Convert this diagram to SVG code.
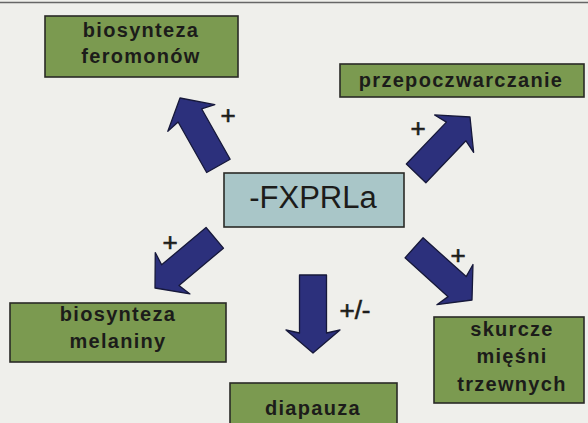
<svg xmlns="http://www.w3.org/2000/svg" width="588" height="423" viewBox="0 0 588 423">
<defs>
<style>
.box{fill:#7b9a50;stroke:#2a2a26;stroke-width:1.6}
.lbl{font-family:"Liberation Sans",Arial,sans-serif;font-weight:bold;font-size:20px;letter-spacing:1.3px;fill:#1c1c1a;text-anchor:middle}
.sign{font-family:"Liberation Sans",Arial,sans-serif;font-size:26px;fill:#1c1c1a;text-anchor:middle;stroke:#1c1c1a;stroke-width:0.6}
.arr{fill:#2c307c;stroke:#16183a;stroke-width:1.3;stroke-linejoin:round}
</style>
<polygon id="arrowShape" points="0,0 27,23 13.5,20 13.5,78 -13.5,78 -13.5,20 -27,23"/>
</defs>
<rect x="0" y="0" width="588" height="423" fill="#efefeb"/>
<line x1="0" y1="2.5" x2="588" y2="2.5" stroke="#666" stroke-width="1.5"/>

<g id="connectors">
<use href="#arrowShape" class="arr" transform="translate(180,98) rotate(-29.5)"/>
<use href="#arrowShape" class="arr" transform="translate(470,117) rotate(43.7)"/>
<use href="#arrowShape" class="arr" transform="translate(155,288) rotate(-130)"/>
<use href="#arrowShape" class="arr" transform="translate(472,300) rotate(132)"/>
<use href="#arrowShape" class="arr" transform="translate(313,353) rotate(180)"/>
<text class="sign" x="228" y="124">+</text>
<text class="sign" x="418" y="137">+</text>
<text class="sign" x="170" y="251">+</text>
<text class="sign" x="458" y="264">+</text>
<text class="sign" x="355" y="319">+/-</text>
</g>

<g id="center">
<rect x="224" y="173" width="180" height="54" fill="#a9c6c8" stroke="#2a2a26" stroke-width="1.6"/>
<text x="313" y="208" font-family="'Liberation Sans',Arial,sans-serif" font-size="31" fill="#1c1c1a" text-anchor="middle">-FXPRLa</text>
</g>

<g id="feromonow">
<rect class="box" x="45" y="16" width="193" height="61"/>
<text class="lbl" x="141" y="37">biosynteza</text>
<text class="lbl" x="141" y="63">feromonów</text>
</g>

<g id="przepoczwarczanie">
<rect class="box" x="340" y="64" width="244" height="33"/>
<text class="lbl" x="461" y="87">przepoczwarczanie</text>
</g>

<g id="melaniny">
<rect class="box" x="10" y="303" width="216" height="59"/>
<text class="lbl" x="118" y="321">biosynteza</text>
<text class="lbl" x="118" y="348">melaniny</text>
</g>

<g id="diapauza">
<rect class="box" x="230" y="383" width="167" height="50"/>
<text class="lbl" x="313" y="415">diapauza</text>
</g>

<g id="skurcze">
<rect class="box" x="434" y="317" width="150" height="86"/>
<text class="lbl" x="512" y="336">skurcze</text>
<text class="lbl" x="512" y="363">mięśni</text>
<text class="lbl" x="512" y="391">trzewnych</text>
</g>
</svg>
